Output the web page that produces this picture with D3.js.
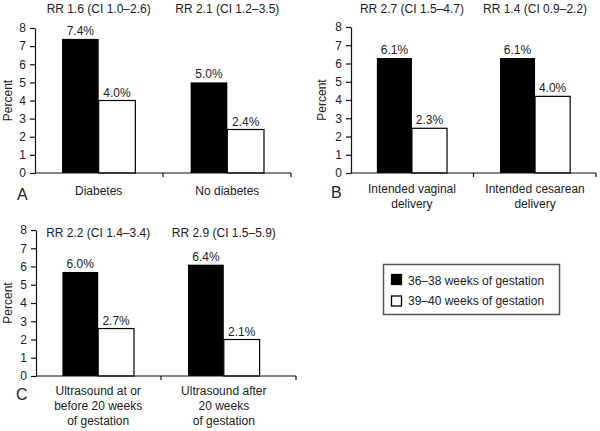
<!DOCTYPE html>
<html>
<head>
<meta charset="utf-8">
<script src="https://cdn.jsdelivr.net/npm/d3@7"></script>
<style>
  html, body { margin: 0; padding: 0; background: #fff; }
  svg { display: block; font-family: "Liberation Sans", Arial, sans-serif; }
</style>
</head>
<body>
<svg id="chart" width="600" height="431"></svg>
<script>
// ---------- DATA ----------
const seriesNames = ["36\u201338 weeks of gestation", "39\u201340 weeks of gestation"];
const yTicks = [0, 1, 2, 3, 4, 5, 6, 7, 8];

// Panel A
const groupsA = [["Diabetes"], ["No diabetes"]];
const earlyA = [7.4, 5.0];
const lateA = [4.0, 2.4];
const earlyLabelsA = ["7.4%", "5.0%"];
const lateLabelsA = ["4.0%", "2.4%"];
const rrA = ["RR 1.6 (CI 1.0\u20132.6)", "RR 2.1 (CI 1.2\u20133.5)"];

// Panel B
const groupsB = [["Intended vaginal", "delivery"], ["Intended cesarean", "delivery"]];
const earlyB = [6.3, 6.3];
const lateB = [2.45, 4.2];
const earlyLabelsB = ["6.1%", "6.1%"];
const lateLabelsB = ["2.3%", "4.0%"];
const rrB = ["RR 2.7 (CI 1.5\u20134.7)", "RR 1.4 (CI 0.9\u20132.2)"];

// Panel C
const groupsC = [["Ultrasound at or", "before 20 weeks", "of gestation"], ["Ultrasound after", "20 weeks", "of gestation"]];
const earlyC = [5.7, 6.1];
const lateC = [2.6, 2.0];
const earlyLabelsC = ["6.0%", "6.4%"];
const lateLabelsC = ["2.7%", "2.1%"];
const rrC = ["RR 2.2 (CI 1.4\u20133.4)", "RR 2.9 (CI 1.5\u20135.9)"];

// ---------- DRAWING ----------
const svg = d3.select("#chart");
const TEXT = "#222";
const FS = 12;

function drawPanel(p) {
  const g = svg.append("g");
  const keys = p.groups.map((d, i) => "g" + i);
  const y = d3.scaleLinear().domain([0, 8]).range([p.bottom, p.top]);
  const x0 = d3.scaleBand().domain(keys).range([p.left, p.barRight])
    .paddingInner(0.43).paddingOuter(0.21);
  const x1 = d3.scaleBand().domain([0, 1]).range([0, x0.bandwidth()]).padding(0);

  // y axis
  const ya = g.append("g").attr("transform", `translate(${p.left},0)`)
    .call(d3.axisLeft(y).tickValues(yTicks).tickSize(5).tickSizeOuter(0).tickPadding(4));
  ya.select(".domain").attr("stroke", "#111").attr("stroke-width", 1.2);
  ya.selectAll(".tick line").attr("stroke", "#111").attr("stroke-width", 1.2);
  ya.selectAll(".tick text").attr("fill", TEXT).attr("font-size", FS)
    .attr("font-family", "'Liberation Sans', Arial, sans-serif");

  // y label
  g.append("text")
    .attr("transform", `translate(${p.ylabX},${(p.top + p.bottom) / 2}) rotate(-90)`)
    .attr("text-anchor", "middle").attr("fill", TEXT).attr("font-size", FS)
    .text("Percent");

  // bars
  const series = [p.early, p.late];
  const labels = [p.earlyLabels, p.lateLabels];
  keys.forEach((k, i) => {
    [0, 1].forEach(s => {
      const v = series[s][i];
      const bx = x0(k) + x1(s);
      g.append("rect")
        .attr("x", bx).attr("y", y(v))
        .attr("width", x1.bandwidth()).attr("height", y(0) - y(v))
        .attr("fill", s === 0 ? "#000" : "#fff")
        .attr("stroke", "#000").attr("stroke-width", s === 0 ? 0 : 1.2);
      g.append("text")
        .attr("x", bx + x1.bandwidth() / 2).attr("y", y(v) - 4)
        .attr("text-anchor", "middle").attr("fill", TEXT).attr("font-size", FS)
        .text(labels[s][i]);
    });
    // RR text
    g.append("text")
      .attr("x", x0(k) + x0.bandwidth() / 2).attr("y", p.rrY)
      .attr("text-anchor", "middle").attr("fill", TEXT).attr("font-size", FS)
      .text(p.rr[i]);
    // category labels
    p.groups[i].forEach((line, j) => {
      g.append("text")
        .attr("x", x0(k) + x0.bandwidth() / 2).attr("y", p.catY + j * 15)
        .attr("text-anchor", "middle").attr("fill", TEXT).attr("font-size", FS)
        .text(line);
    });
  });

  // x axis line + boundary ticks
  g.append("line")
    .attr("x1", p.left).attr("x2", p.right).attr("y1", y(0)).attr("y2", y(0))
    .attr("stroke", "#111").attr("stroke-width", 1.2);
  const mid = (x0(keys[0]) + x0.bandwidth() + x0(keys[1])) / 2;
  [mid, p.right].forEach(t => {
    g.append("line")
      .attr("x1", t).attr("x2", t).attr("y1", y(0)).attr("y2", y(0) + 4)
      .attr("stroke", "#111").attr("stroke-width", 1.2);
  });

  // panel letter
  g.append("text").attr("x", p.letterX).attr("y", p.letterY)
    .attr("fill", TEXT).attr("font-size", 16).text(p.letter);
}

drawPanel({ groups: groupsA, early: earlyA, late: lateA, earlyLabels: earlyLabelsA, lateLabels: lateLabelsA, rr: rrA,
  left: 35, right: 291, barRight: 291, top: 28, bottom: 173, ylabX: 12, rrY: 12.5, catY: 195,
  letter: "A", letterX: 17, letterY: 200 });

drawPanel({ groups: groupsB, early: earlyB, late: lateB, earlyLabels: earlyLabelsB, lateLabels: lateLabelsB, rr: rrB,
  left: 351, right: 596, barRight: 596, top: 27, bottom: 173, ylabX: 326, rrY: 12.5, catY: 192.5,
  letter: "B", letterX: 331, letterY: 198 });

drawPanel({ groups: groupsC, early: earlyC, late: lateC, earlyLabels: earlyLabelsC, lateLabels: lateLabelsC, rr: rrC,
  left: 36, right: 296, barRight: 286, top: 230, bottom: 376, ylabX: 12, rrY: 236.5, catY: 395,
  letter: "C", letterX: 16, letterY: 400 });

// legend
const leg = svg.append("g");
leg.append("rect").attr("x", 383.5).attr("y", 264.5).attr("width", 176).attr("height", 50)
  .attr("fill", "#fff").attr("stroke", "#555").attr("stroke-width", 1.5);
seriesNames.forEach((name, i) => {
  leg.append("rect").attr("x", 391.5).attr("y", 274.5 + i * 21.5).attr("width", 10).attr("height", 10)
    .attr("fill", i === 0 ? "#000" : "#fff").attr("stroke", "#000").attr("stroke-width", 1.3);
  leg.append("text").attr("x", 408).attr("y", 284.5 + i * 20.5)
    .attr("fill", TEXT).attr("font-size", FS).text(name);
});
</script>
</body>
</html>
